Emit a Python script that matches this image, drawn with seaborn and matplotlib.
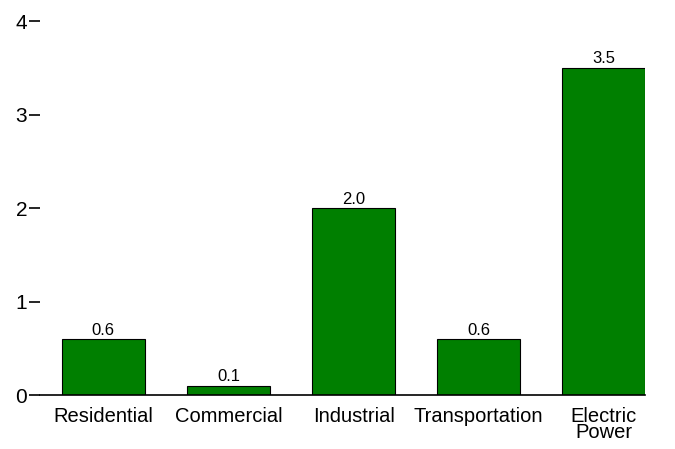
import matplotlib
matplotlib.use("Agg")
import matplotlib.pyplot as plt
import seaborn as sns
import pandas as pd

categories = ['Residential', 'Commercial', 'Industrial', 'Transportation', 'Electric\nPower']
values = [0.6, 0.1, 2.0, 0.6, 3.5]
df = pd.DataFrame({'Sector': categories, 'Value': values})

sns.set_style('white')
plt.rcParams['font.family'] = ['Liberation Sans', 'DejaVu Sans']
plt.rcParams['text.color'] = 'black'
plt.rcParams['xtick.color'] = 'black'
plt.rcParams['ytick.color'] = 'black'

fig = plt.figure(figsize=(6.75, 4.49), dpi=100)
ax = fig.add_axes([0.059, 0.120, 0.897, 0.833])
sns.barplot(data=df, x='Sector', y='Value', color='#007f00', saturation=1,
            edgecolor='black', linewidth=0.8, width=0.664, ax=ax)
for p, v in zip(ax.patches, values):
    ax.annotate(f'{v:.1f}', xy=(p.get_x() + p.get_width() / 2, p.get_height()),
                xytext=(0, 1), textcoords='offset points', ha='center', va='bottom', fontsize=12)

ax.set_xlim(-0.508, 4.332)
ax.set_ylim(0, 4)
ax.set_yticks([0, 1, 2, 3, 4])
ax.set_xlabel('')
ax.set_ylabel('')
for s in ['top', 'right', 'left']:
    ax.spines[s].set_visible(False)
ax.spines['bottom'].set_color('black')
ax.spines['bottom'].set_linewidth(1.2)
ax.tick_params(axis='y', left=True, length=8, width=1.2, labelsize=15, pad=1)
ax.tick_params(axis='x', bottom=False, labelsize=14.5, pad=5)
for t in ax.get_xticklabels():
    t.set_linespacing(0.8)
fig.savefig('out.png', dpi=100)
